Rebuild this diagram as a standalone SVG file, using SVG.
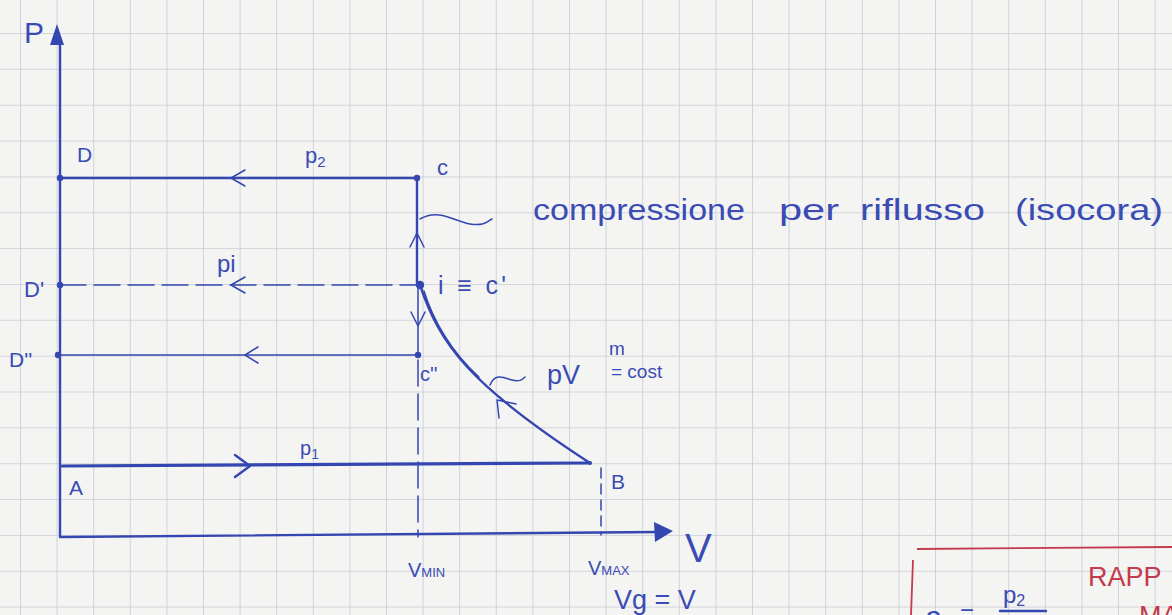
<svg xmlns="http://www.w3.org/2000/svg" width="1172" height="615" viewBox="0 0 1172 615">
<defs>
<pattern id="grid" patternUnits="userSpaceOnUse" x="20" y="33" width="36.6" height="35.85">
<path d="M0,0 V35.85 M0,0 H36.6" fill="none" stroke="#c9ccd6" stroke-width="1.6"/>
</pattern>
<style>
.ink{stroke:#3446b0;fill:none;stroke-linecap:round;stroke-linejoin:round}
.thick{stroke-width:3.2}
.med{stroke-width:2.4}
.thin{stroke-width:1.5}
.dash{stroke-dasharray:26 8}
.dot{fill:#3446b0}
.lbl{font-family:"Liberation Sans","DejaVu Sans",sans-serif;fill:#3a4cb4}
.red{font-family:"Liberation Sans","DejaVu Sans",sans-serif;fill:#c43a4e}
</style>
</defs>
<rect width="1172" height="615" fill="#f4f4f2"/>
<rect width="1172" height="615" fill="url(#grid)"/>

<g id="axes">
<path class="ink med" d="M60,536 V42"/>
<polygon class="dot" points="57,24 50,45 64,45"/>
<path class="ink med" d="M60,537 L658,532"/>
<polygon class="dot" points="673,531 654,522 655,542"/>
<text class="lbl" x="24" y="43" font-size="30">P</text>
<text class="lbl" x="685" y="562" font-size="40">V</text>
</g>

<g id="connectors">
<path class="ink med" d="M60,178 H417"/>
<path class="ink thin" d="M245,170 L231,178 L245,186"/>
<path class="ink med" d="M417,178 V285"/>
<path class="ink thin" d="M410,247 L417,233 L424,247"/>
<path class="ink thin dash" d="M60,285 H420"/>
<path class="ink thin" d="M245,277 L231,285 L245,293"/>
<path class="ink thin" d="M418,285 V355"/>
<path class="ink thin" d="M411,312 L418,326 L425,312"/>
<path class="ink thin" d="M58,355 H418"/>
<path class="ink thin" d="M258,347 L245,355 L258,363"/>
<path class="ink thin dash" d="M418,360 V537"/>
<path class="ink med" d="M420,285 C440,345 470,385 590,463"/>
<path class="ink thin" d="M424,291 C433,320 451,352 479,377"/>
<path class="ink thin" d="M516,404 L497,400 L499,418"/>
<path class="ink thick" d="M62,466 L590,463"/>
<path class="ink med" d="M235,455 L250,466 L235,477"/>
<path class="ink thin" stroke-dasharray="10 6" d="M601,468 V535"/>
<path class="ink thin" d="M420,219 C440,208 455,222 470,224 S486,222 492,219"/>
<path class="ink thin" d="M490,385 C495,372 505,378 512,380 S522,380 525,377"/>
</g>

<g id="node-D">
<circle class="dot" cx="60" cy="178" r="3.2"/>
<text class="lbl" x="77" y="162" font-size="21">D</text>
</g>
<g id="node-C">
<circle class="dot" cx="417" cy="178" r="3.2"/>
<text class="lbl" x="437" y="175" font-size="22">c</text>
</g>
<g id="node-Dp">
<circle class="dot" cx="60" cy="285" r="3.2"/>
<text class="lbl" x="24" y="297" font-size="22">D'</text>
</g>
<g id="node-i">
<circle class="dot" cx="420" cy="285" r="4.2"/>
<text class="lbl" x="438" y="294" font-size="25" textLength="68" lengthAdjust="spacing">i ≡ c'</text>
</g>
<g id="node-Dpp">
<circle class="dot" cx="58" cy="355" r="3.2"/>
<text class="lbl" x="9" y="367" font-size="21">D''</text>
</g>
<g id="node-Cpp">
<circle class="dot" cx="418" cy="355" r="3.2"/>
<text class="lbl" x="420" y="381" font-size="20">c''</text>
</g>
<g id="node-A">
<text class="lbl" x="69" y="495" font-size="21">A</text>
</g>
<g id="node-B">
<circle class="dot" cx="590" cy="463" r="2"/>
<text class="lbl" x="611" y="489" font-size="21">B</text>
</g>

<g id="labels">
<text class="lbl" x="305" y="163" font-size="22">p<tspan font-size="15" dy="4">2</tspan></text>
<text class="lbl" x="217" y="272" font-size="24">pi</text>
<text class="lbl" x="300" y="455" font-size="20">p<tspan font-size="14" dy="4">1</tspan></text>
<text class="lbl" x="533" y="220" font-size="29" textLength="212" lengthAdjust="spacingAndGlyphs">compressione</text>
<text class="lbl" x="779" y="220" font-size="29" textLength="60" lengthAdjust="spacingAndGlyphs">per</text>
<text class="lbl" x="860" y="220" font-size="29" textLength="125" lengthAdjust="spacingAndGlyphs">riflusso</text>
<text class="lbl" x="1015" y="220" font-size="29" textLength="148" lengthAdjust="spacingAndGlyphs">(isocora)</text>
<text class="lbl" x="547" y="384" font-size="27">pV</text>
<text class="lbl" x="609" y="355" font-size="19">m</text>
<text class="lbl" x="611" y="378" font-size="19">= cost</text>
<text class="lbl" x="408" y="577" font-size="20">V<tspan font-size="13">MIN</tspan></text>
<text class="lbl" x="588" y="575" font-size="20">V<tspan font-size="13">MAX</tspan></text>
<text class="lbl" x="614" y="609" font-size="27">Vg = V</text>
</g>

<g id="note">
<path stroke="#c43a4e" stroke-width="1.8" fill="none" d="M917,549 L1172,547 M913,560 L911,615"/>
<text class="red" x="1088" y="586" font-size="27">RAPP</text>
<text class="red" x="1139" y="625" font-size="27">MA</text>
<text class="lbl" x="1003" y="603" font-size="24">p<tspan font-size="16" dy="3">2</tspan></text>
<path class="ink med" d="M1000,611 H1046"/>
<text class="lbl" x="925" y="633" font-size="30">β</text>
<text class="lbl" x="960" y="621" font-size="24">=</text>
</g>
</svg>
